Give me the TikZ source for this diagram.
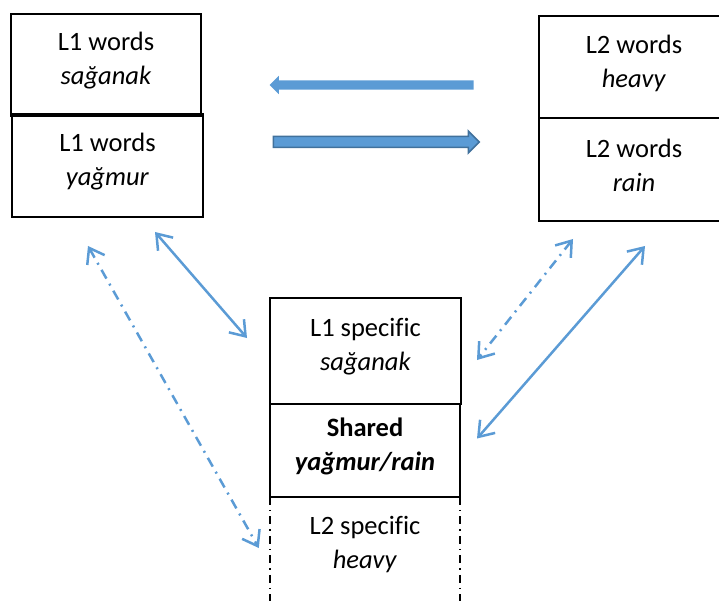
\documentclass[tikz,border=0pt]{standalone}
\usepackage{fontspec}
\setmainfont[Ligatures=NoCommon]{Carlito}
\usetikzlibrary{arrows.meta, positioning, shapes.arrows}
\definecolor{arrowblue}{HTML}{5B9BD5}
\definecolor{arrowedge}{HTML}{41719C}

\begin{document}
\begin{tikzpicture}[x=1pt, y=-1pt,
    box/.style={draw, line width=1.5pt, minimum width=190pt, inner sep=0pt, outer sep=0pt},
    txt/.style={align=center, font=\fontsize{26.5}{34}\selectfont, yshift=4pt},
    link/.style={draw=arrowblue, line width=2.5pt, {Straight Barb[length=14pt,width=20pt]}-{Straight Barb[length=14pt,width=20pt]}},
    dlink/.style={link, dash pattern=on 10pt off 6pt on 2pt off 6pt},
    sidedash/.style={line width=1.5pt, dash pattern=on 8pt off 5pt on 1.5pt off 5pt},
    blockarrow/.style={single arrow, fill=arrowblue, inner xsep=0pt, outer sep=0pt}]
  \clip (0,0) rectangle (719,601);

  % L1 boxes
  \node[box, minimum height=102pt] (l1top) at (106,65) {};
  \node[box, minimum width=191pt, minimum height=103pt] (l1bot) at (107.5,165.5) {};
  \node[txt] (l1toptxt) at (l1top) {L1 words\\\textit{sağanak}};
  \node[txt] (l1bottxt) at (l1bot) {L1 words\\\textit{yağmur}};

  % L2 boxes
  \node[box, minimum height=102pt] (l2top) at (634,67) {};
  \node[box, minimum height=103pt] (l2bot) at (634,169.5) {};
  \node[txt] (l2toptxt) at (l2top) {L2 words\\\textit{heavy}};
  \node[txt] (l2bottxt) at (l2bot) {L2 words\\\textit{rain}};

  % Block arrows
  \node[blockarrow, shape border rotate=180, inner ysep=4.5pt,
        single arrow head extend=4.5pt, minimum height=204pt] (back) at (374,85) {};
  \node[blockarrow, draw=arrowedge, line width=1.5pt, inner ysep=4.75pt,
        single arrow head extend=5.5pt, minimum height=206pt] (fwd) at (373.5,142) {};

  % Central stack
  \node[box, minimum width=191pt, minimum height=106pt] (l1spec) at (365.5,351) {};
  \node[box, minimum height=93pt] (shared) at (365,450.5) {};
  \node[minimum width=190pt, minimum height=104pt, inner sep=0pt] (l2spec) at (365,549) {};
  \draw[sidedash] (l2spec.north west) -- (l2spec.south west);
  \draw[sidedash] (l2spec.north east) -- (l2spec.south east);
  \node[txt] (l1spectxt) at (l1spec) {L1 specific\\\textit{sağanak}};
  \node[txt] (sharedtxt) at (shared) {\textbf{Shared}\\\textbf{\textit{yağmur/rain}}};
  \node[txt] (l2spectxt) at (l2spec) {L2 specific\\\textit{heavy}};

  % Links
  \draw[link] ([shift={(47.5,15)}]l1bot.south) -- ([shift={(-23,-13)}]l1spec.west);
  \draw[dlink] ([shift={(-19.5,29)}]l1bot.south) -- ([shift={(-11,-1)}]l2spec.west);
  \draw[dlink] ([shift={(-61,18)}]l2bot.south) -- ([shift={(16,9)}]l1spec.east);
  \draw[link] ([shift={(11,25)}]l2bot.south) -- ([shift={(17,-12)}]shared.east);
\end{tikzpicture}
\end{document}
